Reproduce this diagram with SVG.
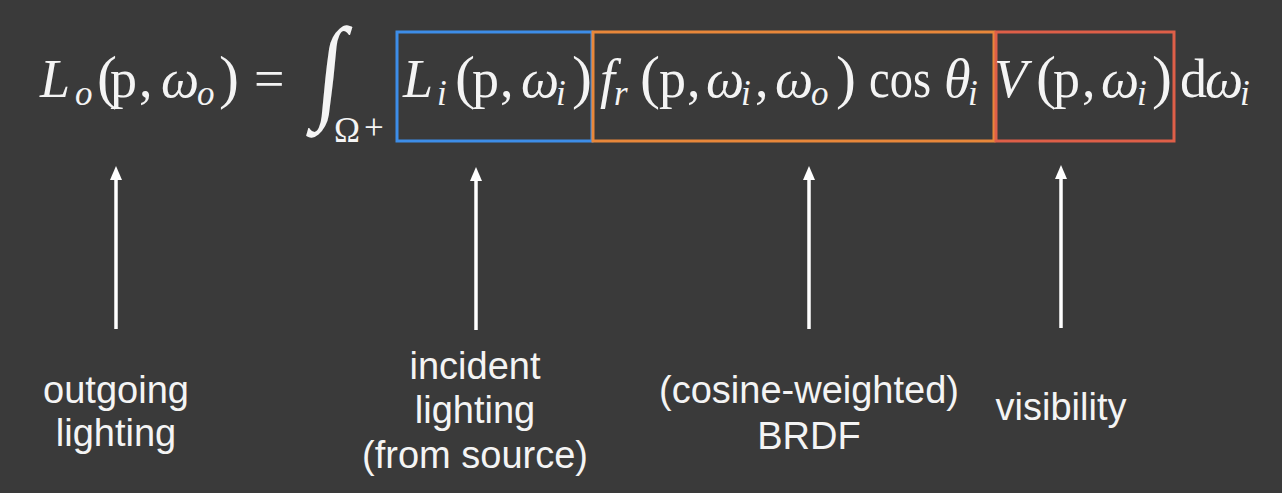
<svg xmlns="http://www.w3.org/2000/svg" width="1282" height="493" viewBox="0 0 1282 493">
<defs>
<style>
.eq{font-family:"Liberation Serif","DejaVu Serif",serif;font-size:54px;fill:#f4f4f4}
.it{font-style:italic}
.sub{font-size:35px}
.par{font-size:60px}
.box{fill:none;stroke-width:3}
.lbl{font-family:"Liberation Sans","DejaVu Sans",sans-serif;font-size:38px;fill:#f4f4f4;text-anchor:middle}
.arr{stroke:#ffffff;stroke-width:3.5;fill:none}
.head{fill:#ffffff}
</style>
</defs>
<rect width="1282" height="493" fill="#3a3a3a"/>
<g id="eq-lhs">
<text class="eq"><tspan class="it" x="40" y="97">L</tspan><tspan class="it sub" x="75" y="105">o</tspan><tspan class="par" x="97" y="97">(</tspan><tspan x="110" y="97">p</tspan><tspan x="139" y="97">,</tspan><tspan class="it" x="161" y="97">ω</tspan><tspan class="it sub" x="197" y="105">o</tspan><tspan class="par" x="219" y="97">)</tspan><tspan x="254" y="97">=</tspan></text>
</g>
<g id="eq-integral">
<text class="eq" transform="translate(314,107) skewX(-6) scale(0.75,0.93)" x="0" y="0" style="font-size:123px">∫</text>
<text class="eq sub" x="334" y="142">Ω</text>
<text class="eq sub" x="364" y="139">+</text>
</g>
<g id="term-incident">
<rect class="box" x="397" y="32" width="195" height="109" stroke="#3d8de8"/>
<text class="eq"><tspan class="it" x="403" y="97">L</tspan><tspan class="it sub" x="437" y="105">i</tspan><tspan class="par" x="455" y="97">(</tspan><tspan x="472" y="97">p</tspan><tspan x="500" y="97">,</tspan><tspan class="it" x="521" y="97">ω</tspan><tspan class="it sub" x="556" y="105">i</tspan><tspan class="par" x="572" y="97">)</tspan></text>
</g>
<g id="term-brdf">
<rect class="box" x="593" y="32" width="401" height="109" stroke="#e8873a"/>
<text class="eq"><tspan class="it" x="600" y="97">f</tspan><tspan class="it sub" x="614" y="105">r</tspan><tspan class="par" x="640" y="97">(</tspan><tspan x="659" y="97">p</tspan><tspan x="687" y="97">,</tspan><tspan class="it" x="706" y="97">ω</tspan><tspan class="it sub" x="741" y="105">i</tspan><tspan x="755" y="97">,</tspan><tspan class="it" x="775" y="97">ω</tspan><tspan class="it sub" x="811" y="105">o</tspan><tspan class="par" x="836" y="97">)</tspan></text>
<text class="eq" x="869" y="97" textLength="62" lengthAdjust="spacingAndGlyphs">cos</text>
<text class="eq"><tspan class="it" x="944" y="97">θ</tspan><tspan class="it sub" x="968" y="105">i</tspan></text>
</g>
<g id="term-visibility">
<rect class="box" x="996" y="32" width="178" height="109" stroke="#de5f48"/>
<text class="eq"><tspan class="it" x="994" y="97">V</tspan><tspan class="par" x="1036" y="97">(</tspan><tspan x="1053" y="97">p</tspan><tspan x="1082" y="97">,</tspan><tspan class="it" x="1101" y="97">ω</tspan><tspan class="it sub" x="1137" y="105">i</tspan><tspan class="par" x="1152" y="97">)</tspan></text>
</g>
<g id="eq-measure">
<text class="eq"><tspan x="1180" y="97">d</tspan><tspan class="it" x="1205" y="97">ω</tspan><tspan class="it sub" x="1240" y="105">i</tspan></text>
</g>
<g id="connectors">
<line class="arr" x1="116" y1="329" x2="116" y2="176"/><polygon class="head" points="116,166 110,180 122,180"/>
<line class="arr" x1="476" y1="330" x2="476" y2="177"/><polygon class="head" points="476,167 470,181 482,181"/>
<line class="arr" x1="809" y1="329" x2="809" y2="176"/><polygon class="head" points="809,166 803,180 815,180"/>
<line class="arr" x1="1061" y1="328" x2="1061" y2="175"/><polygon class="head" points="1061,165 1055,179 1067,179"/>
</g>
<g id="label-outgoing"><text class="lbl" x="116" y="403">outgoing</text><text class="lbl" x="116" y="446">lighting</text></g>
<g id="label-incident"><text class="lbl" x="475" y="379">incident</text><text class="lbl" x="475" y="423">lighting</text><text class="lbl" x="475" y="468">(from source)</text></g>
<g id="label-brdf"><text class="lbl" x="809" y="403">(cosine-weighted)</text><text class="lbl" x="809" y="449">BRDF</text></g>
<g id="label-visibility"><text class="lbl" x="1061" y="420">visibility</text></g>
</svg>
